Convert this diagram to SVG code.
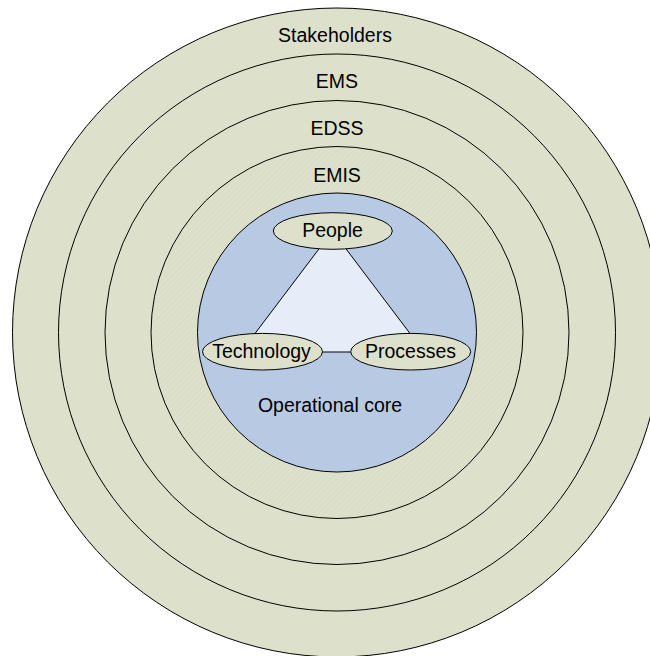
<svg xmlns="http://www.w3.org/2000/svg" width="650" height="656" viewBox="0 0 650 656">
  <defs>
    <pattern id="hatch" width="4" height="4" patternUnits="userSpaceOnUse" patternTransform="rotate(45)">
      <rect width="4" height="4" fill="#DDE1CB"/>
      <line x1="0" y1="0" x2="0" y2="4" stroke="#D3D8BE" stroke-width="1"/>
    </pattern>
  </defs>
  <style>
    .ring { fill: #DDE1CB; stroke: #000; stroke-width: 1; }
    .core { fill: #B8CAE3; stroke: #000; stroke-width: 1; }
    .oval { fill: #DDE1CB; stroke: #000; stroke-width: 1; }
    .tri { fill: #E7EDF8; stroke: #000; stroke-width: 1; }
    .edge { stroke: #333; stroke-width: 1.2; fill: none; }
    text { font-family: "Liberation Sans", Arial, sans-serif; font-size: 19.5px; fill: #000; text-anchor: middle; }
  </style>
  <rect width="650" height="656" fill="#FFFFFF"/>
  <g id="stakeholders">
    <circle class="ring" cx="337" cy="332.5" r="324.5"/>
    <text x="335" y="41.7">Stakeholders</text>
  </g>
  <g id="ems">
    <circle class="ring" cx="337" cy="332.5" r="278.5"/>
    <text x="337" y="88.3">EMS</text>
  </g>
  <g id="edss">
    <circle class="ring" cx="337" cy="332.5" r="232"/>
    <text x="337" y="135">EDSS</text>
  </g>
  <g id="emis">
    <circle class="ring" cx="337" cy="332.5" r="186" style="fill:url(#hatch)"/>
    <text x="337" y="181.7">EMIS</text>
  </g>
  <g id="operational-core">
    <circle class="core" cx="337" cy="332.5" r="139.5"/>
    <text x="330" y="411.7">Operational core</text>
  </g>
  <g id="connectors">
    <polygon class="tri" points="332.5,231 241,352 424,352"/>
  </g>
  <g id="people">
    <ellipse class="oval" cx="332.8" cy="231" rx="59.5" ry="18.3"/>
    <text x="332.5" y="236.7">People</text>
  </g>
  <g id="technology">
    <ellipse class="oval" cx="262.5" cy="351.7" rx="60" ry="18.3"/>
    <text x="261.5" y="358.3">Technology</text>
  </g>
  <g id="processes">
    <ellipse class="oval" cx="410.7" cy="351.7" rx="60" ry="18.3"/>
    <text x="410.5" y="358.3">Processes</text>
  </g>
</svg>
